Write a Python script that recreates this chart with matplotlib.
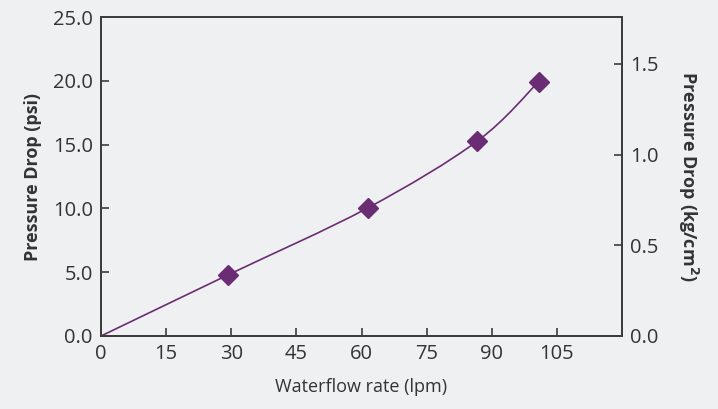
import numpy as np
import matplotlib.pyplot as plt
from matplotlib.path import Path
from matplotlib.patches import PathPatch

# data
flow = [0, 29.2, 61.4, 86.7, 100.8]        # lpm
psi = [0, 4.78, 10.03, 15.28, 19.93]       # psi
x_ticks = [0, 15, 30, 45, 60, 75, 90, 105]
psi_ticks = [0, 5, 10, 15, 20, 25]
kg_ticks = [0, 0.5, 1.0, 1.5]
PSI_TO_KG = 0.070307

bg = '#eff0f2'
purple = '#6a2d74'
dark = '#3c3c3c'

plt.rcParams['font.family'] = ['Open Sans', 'DejaVu Sans']

fig = plt.figure(figsize=(7.18, 4.09), dpi=100, facecolor=bg)
ax = fig.add_axes([0.1407, 0.1785, 0.7256, 0.7799])
ax.set_facecolor(bg)

# smooth curve through the points (catmull-rom -> bezier segments)
pts = np.column_stack([flow, psi])
verts = [pts[0]]
codes = [Path.MOVETO]
for i in range(len(pts) - 1):
    p0 = pts[i - 1] if i > 0 else pts[i]
    p1, p2 = pts[i], pts[i + 1]
    p3 = pts[i + 2] if i + 2 < len(pts) else pts[i + 1]
    verts += [p1 + (p2 - p0) / 6, p2 - (p3 - p1) / 6, p2]
    codes += [Path.CURVE4] * 3
ax.add_patch(PathPatch(Path(verts, codes), fill=False, edgecolor=purple, lw=1.2))

ax.plot(flow[1:], psi[1:], linestyle='none', marker='D', ms=10, color=purple, zorder=3)

ax.set_xlim(0, 120)
ax.set_ylim(0, 25)
ax.set_xticks(x_ticks)
ax.set_yticks(psi_ticks)
ax.set_yticklabels([f'{v:.1f}' for v in psi_ticks])

ax2 = ax.twinx()
ax2.set_ylim(0, 25 * PSI_TO_KG)
ax2.set_yticks(kg_ticks)
ax2.set_yticklabels([f'{v:.1f}' for v in kg_ticks])

for a in (ax, ax2):
    for s in a.spines.values():
        s.set_color(dark)
        s.set_linewidth(1.3)
    a.tick_params(direction='in', length=6, width=1.2, color=dark,
                  labelcolor='#333333', labelsize=14.5, pad=6)

ax.set_xlabel('Waterflow rate (lpm)', fontsize=13, color='#333333', labelpad=10)
ax.set_ylabel('Pressure Drop (psi)', fontsize=13, fontweight='bold', color='#333333', labelpad=8)
ax2.set_ylabel('Pressure Drop (kg/cm$^\\mathbf{2}$)', fontsize=13, fontweight='bold',
               color='#333333', rotation=-90, labelpad=30)

fig.savefig('out.png', dpi=100, facecolor=bg)
